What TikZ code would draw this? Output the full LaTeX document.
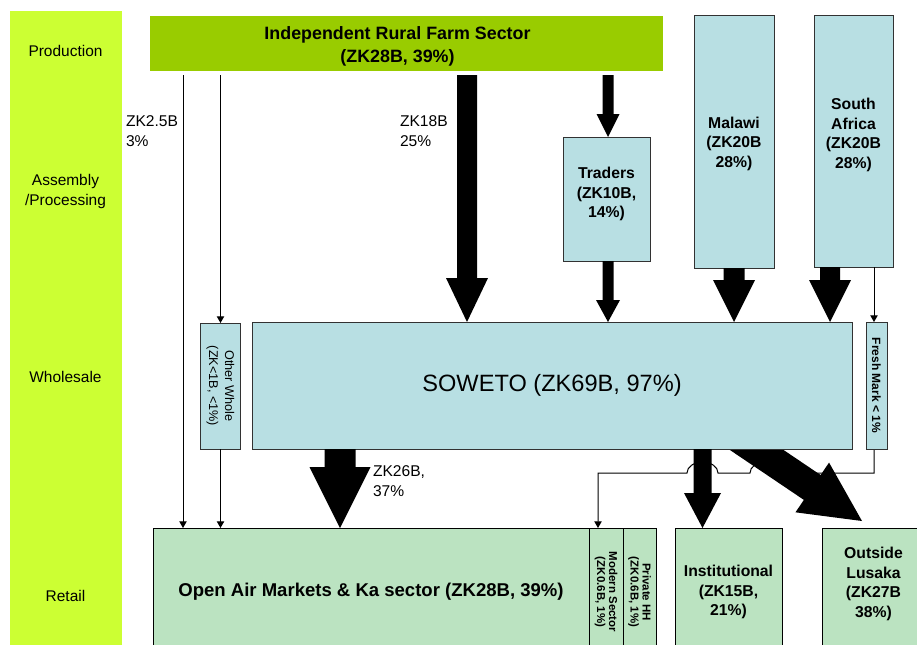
\documentclass[tikz,border=0pt]{standalone}
\usepackage{fontspec}
\setmainfont{Liberation Sans}
\usetikzlibrary{arrows.meta,calc}
\pgfdeclarelayer{behind}
\pgfsetlayers{behind,main}

\definecolor{stageband}{RGB}{204,255,51}
\definecolor{farmgreen}{RGB}{153,204,0}
\definecolor{boxblue}{RGB}{184,223,227}
\definecolor{boxgreen}{RGB}{187,227,193}
\definecolor{edgegray}{RGB}{50,50,50}

% Block arrow: #1 root, #2 tip, #3 shaft width, #4 head width, #5 head length (px)
\newcommand\blockarrow[5]{%
  \pgfmathsetmacro\baS{#3*0.375}%
  \pgfmathsetmacro\baH{#4*0.375}%
  \pgfmathsetmacro\baL{#5*0.75}%
  \coordinate (ba-from) at (#1);
  \coordinate (ba-to) at (#2);
  \coordinate (ba-base) at ($(ba-to)!\baL pt!(ba-from)$);
  \fill[black]
    ($(ba-from)!\baS pt!90:(ba-to)$) --
    ($(ba-base)!\baS pt!90:(ba-to)$) --
    ($(ba-base)!\baH pt!90:(ba-to)$) --
    (ba-to) --
    ($(ba-base)!\baH pt!-90:(ba-to)$) --
    ($(ba-base)!\baS pt!-90:(ba-to)$) --
    ($(ba-from)!\baS pt!-90:(ba-to)$) -- cycle;
}

\begin{document}
\begin{tikzpicture}[x=0.75pt,y=-0.75pt,
  every node/.style={inner sep=0pt, outer sep=0pt},
  stage/.style={font=\fontsize{11.6}{14.3}\selectfont, align=center},
  flowlabel/.style={font=\fontsize{11.7}{15}\selectfont, align=left, anchor=west},
  farmbox/.style={fill=farmgreen, align=center, outer sep=3pt,
    font=\bfseries\fontsize{13.4}{17.25}\selectfont},
  bluebox/.style={draw=edgegray, line width=0.75pt, fill=boxblue, align=center,
    font=\bfseries\fontsize{11.8}{14.6}\selectfont},
  greenbox/.style={draw=black, line width=0.75pt, fill=boxgreen, align=center,
    font=\bfseries\fontsize{11.8}{14.6}\selectfont},
  sidebox/.style={draw=edgegray, line width=0.75pt, fill=boxblue, align=center, rotate=-90},
  thinflow/.style={line width=0.75pt, -{Triangle[length=5pt,width=5.5pt]}},
]
\useasboundingbox (0,0) rectangle (917,644);
\clip (0,0) rectangle (917,644);

% stage band with its labels
\fill[stageband] (10,11) rectangle (122,660);
\node[stage] (lblProd) at (65.5,51) {Production};
\node[stage] (lblAsm) at (65.5,191.5) {Assembly\\/Processing};
\node[stage] (lblWhole) at (65.5,377) {Wholesale};
\node[stage] (lblRetail) at (65.5,596) {Retail};

% production / supply sources
\node[farmbox, minimum width=384.75pt, minimum height=41.25pt] (farm) at (406.5,43.5)
  {\rule{0pt}{14.7pt}Independent Rural Farm Sector\rule{13.5pt}{0pt}\\(ZK28B, 39\%)\rule{13.5pt}{0pt}};
\node[bluebox, minimum width=60pt, minimum height=189.75pt] (malawi) at (734,141.5)
  {\rule{0pt}{11.5pt}Malawi\\(ZK20B\\28\%)};
\node[bluebox, minimum width=59.25pt, minimum height=189pt] (safrica) at (853.5,141)
  {\rule{0pt}{11.5pt}South\\Africa\\(ZK20B\\28\%)\\\mbox{}};
\node[bluebox, minimum width=65.25pt, minimum height=93pt] (traders) at (606.5,199)
  {Traders\\(ZK10B,\\14\%)\rule[-10pt]{0pt}{1pt}};

% wholesale
\node[bluebox, minimum width=450pt, minimum height=95.25pt,
  font=\fontsize{17.7}{20}\selectfont] (soweto) at (552,385.5) {SOWETO (ZK69B, 97\%)};
\node[sidebox, minimum width=94.5pt, minimum height=30pt,
  font=\fontsize{9.5}{12}\selectfont] (other) at (220.5,386) {Other Whole\\(ZK<1B, <1\%)};
\node[sidebox, minimum width=95.25pt, minimum height=15.75pt,
  font=\bfseries\fontsize{9}{11}\selectfont] (fresh) at (876.5,385.5) {Fresh Mark < 1\%};

% retail
\node[greenbox, minimum width=327pt, minimum height=96pt,
  font=\bfseries\fontsize{13.9}{16}\selectfont] (openair) at (371,592)
  {Open Air Markets \& Ka sector (ZK28B, 39\%)};
\node[greenbox, rotate=-90, minimum width=96pt, minimum height=25.5pt,
  font=\bfseries\fontsize{8.6}{9}\selectfont] (modern) at (606,592)
  {Modern Sector\\(ZK0.6B, 1\%)};
\node[greenbox, rotate=-90, minimum width=96pt, minimum height=24.75pt,
  font=\bfseries\fontsize{8.6}{9}\selectfont] (privhh) at (639.5,592)
  {Private HH\\(ZK0.6B, 1\%)};
\node[greenbox, minimum width=80.25pt, minimum height=96pt] (inst) at (728.5,592)
  {Institutional\\(ZK15B,\\21\%)};
\node[greenbox, minimum width=77.25pt, minimum height=96pt] (lusaka) at (873.5,592)
  {Outside\\Lusaka\\(ZK27B\\38\%)\\\mbox{}};

% flow columns
\path (183,0) coordinate (colDirect)
      (467,0) coordinate (colFarm)
      (608,0) coordinate (colTraders)
      (830,0) coordinate (colSA)
      (874,0) coordinate (colFresh)
      (340,0) coordinate (colOpen)
      (702.5,0) coordinate (colInst)
      (598,0) coordinate (colModern)
      (0,473) coordinate (hopRow)
      (696,409) coordinate (lusakaRoot)
      (862,521) coordinate (lusakaTip);

% thin flows
\draw[thinflow] (farm.south -| colDirect) -- (openair.north -| colDirect);
\draw[thinflow] (farm.south -| other.west) -- (other.west);
\draw[thinflow] (other.east) -- (openair.north -| other.east);
\draw[thinflow] (safrica.south -| colFresh) -- (fresh.west -| colFresh);

% flow from the fresh market hopping over the heavy flows
\begin{pgfonlayer}{behind}
\draw[thinflow] (fresh.east -| colFresh) -- (colFresh |- hopRow) -- (780,473)
  arc[start angle=0, end angle=180, x radius=11.25pt, y radius=8.25pt]
  -- (718,473)
  arc[start angle=0, end angle=180, x radius=11.625pt, y radius=8.25pt]
  -- (colModern |- hopRow) -- (modern.west -| colModern);
\blockarrow{lusakaRoot}{lusakaTip}{30}{60}{60}
\end{pgfonlayer}

% heavy flows
\blockarrow{farm.south -| colFarm}{soweto.north -| colFarm}{20}{42}{44}
\blockarrow{farm.south -| colTraders}{traders.north -| colTraders}{11}{23}{23}
\blockarrow{traders.south -| colTraders}{soweto.north -| colTraders}{11}{24}{22}
\blockarrow{malawi.south}{soweto.north -| malawi.south}{21}{42}{42}
\blockarrow{safrica.south -| colSA}{soweto.north -| colSA}{20}{42}{42}
\blockarrow{soweto.south -| colOpen}{openair.north -| colOpen}{31}{61}{61}
\blockarrow{soweto.south -| colInst}{inst.north -| colInst}{18}{37}{35}

% flow values
\node[flowlabel] (valDirect) at (126,131) {ZK2.5B\\3\%};
\node[flowlabel] (valFarm) at (400,131) {ZK18B\\25\%};
\node[flowlabel] (valOpen) at (373,481) {ZK26B,\\37\%};
\end{tikzpicture}
\end{document}
